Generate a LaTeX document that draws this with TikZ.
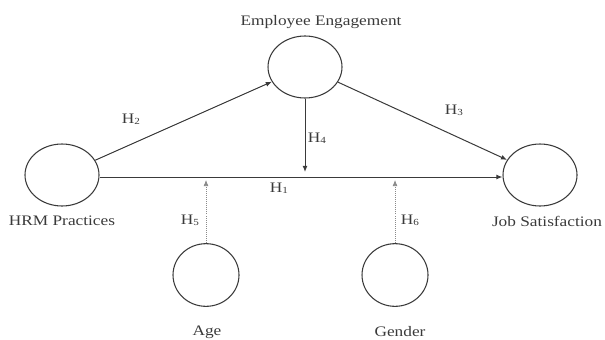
\documentclass[tikz,border=0pt]{standalone}
\usepackage{fontspec}
\setmainfont{Liberation Serif}[FakeStretch=1.19]
\usepackage{tikz}
\usetikzlibrary{arrows.meta,positioning,shapes.geometric}
\definecolor{trait}{HTML}{3A3A3A}
\definecolor{pointille}{HTML}{8A8A8A}
\tikzset{
  construit/.style={ellipse, draw=trait, line width=0.8pt, minimum width=55.5pt,
                    minimum height=46.5pt, inner sep=0pt},
  moderat/.style={ellipse, draw=trait, line width=0.8pt, minimum width=49.5pt,
                  minimum height=47pt, inner sep=0pt},
  etiq/.style={font=\fontsize{10.9}{12}\selectfont, text=trait, inner sep=0pt},
  hyp/.style={font=\fontsize{10.9}{12}\selectfont, text=trait, inner sep=0pt},
  arr/.style={-{Latex[length=1.6mm,width=1.3mm]}, line width=0.75pt, draw=trait},
  arrmod/.style={-{Latex[length=1.6mm,width=1.3mm]}, line width=0.55pt, draw=pointille,
                 densely dotted},
}
\newcommand{\hyph}[1]{H\raisebox{-0.2ex}{\scriptsize #1}}

\begin{document}
\begin{tikzpicture}[x=0.75pt, y=-0.75pt]
  \useasboundingbox (0,0) rectangle (605,339);

  % les construits
  \node[construit] (hrm) at (62,175) {};
  \node[construit] (eng) at (305,67) {};
  \node[construit] (job) at (540,175) {};
  \node[moderat] (age) at (206,275) {};
  \node[moderat] (gen) at (395,275) {};

  % noms des variables
  \node[etiq] (lhrm) at (62,221) {HRM Practices};
  \node[etiq] (leng) at (321,22) {Employee Engagement};
  \node[etiq] (ljob) at (547,221) {Job Satisfaction};
  \node[etiq] (lage) at (207,332) {Age};
  \node[etiq] (lgen) at (400,332) {Gender};

  % points d'arrivée sur H1
  \coordinate (m4) at (305,172);
  \coordinate (m5) at (206,180);
  \coordinate (m6) at (395,180);

  % relations
  \draw[arr] (hrm.east |- 0,177) -- (job.west |- 0,177);
  \draw[arr] (hrm) -- (eng);
  \draw[arr] (eng) -- (job);
  \draw[arr] (eng) -- (m4);
  \draw[arrmod] (age) -- (m5);
  \draw[arrmod] (gen) -- (m6);

  % hypotheses
  \node[hyp] (h1) at (279,188) {\hyph{1}};
  \node[hyp] (h2) at (131,119) {\hyph{2}};
  \node[hyp] (h3) at (454,110) {\hyph{3}};
  \node[hyp] (h4) at (317,138) {\hyph{4}};
  \node[hyp] (h5) at (190,220) {\hyph{5}};
  \node[hyp] (h6) at (410,220) {\hyph{6}};
\end{tikzpicture}
\end{document}
